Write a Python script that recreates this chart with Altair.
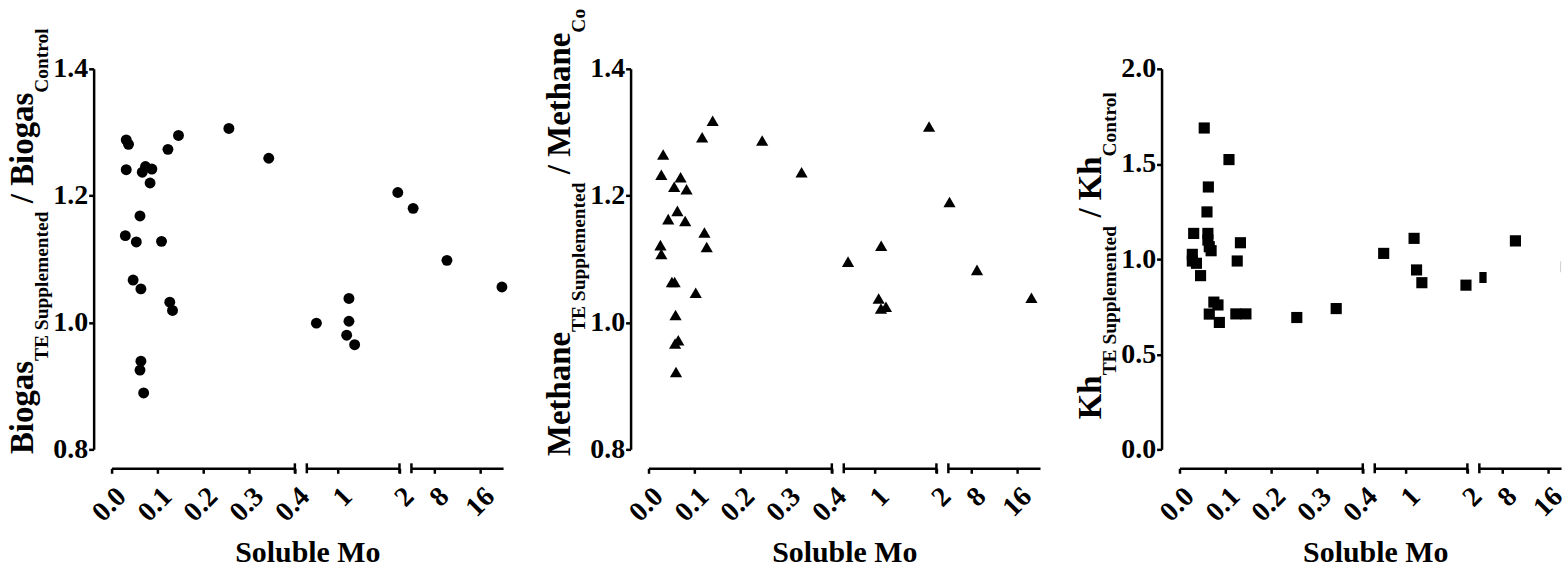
import altair as alt
import pandas as pd

# ---------------- data ----------------
bio_x = [0.032, 0.037, 0.032, 0.074, 0.067, 0.088, 0.084, 0.123, 0.146, 0.256, 0.343,
         0.062, 0.030, 0.054, 0.109, 0.047, 0.064, 0.127, 0.133, 0.064, 0.062, 0.070,
         0.655, 1.182, 1.182, 1.145, 1.274, 1.973, 4.3, 10.2, 19.8]
bio_y = [1.288, 1.281, 1.241, 1.246, 1.237, 1.242, 1.220, 1.273, 1.295, 1.306, 1.259,
         1.168, 1.137, 1.127, 1.128, 1.067, 1.053, 1.032, 1.019, 0.939, 0.925, 0.889,
         0.999, 1.038, 1.002, 0.980, 0.965, 1.205, 1.180, 1.098, 1.056]

meth_x = [0.032, 0.028, 0.056, 0.070, 0.083, 0.043, 0.063, 0.080, 0.026, 0.028, 0.117,
          0.140, 0.122, 0.127, 0.051, 0.057, 0.103, 0.059, 0.065, 0.058, 0.060, 0.248,
          0.334, 0.569, 1.106, 1.065, 1.102, 1.183, 1.881, 4.2, 9.0, 18.5]
meth_y = [1.265, 1.233, 1.214, 1.229, 1.210, 1.163, 1.176, 1.160, 1.122, 1.108, 1.292,
          1.318, 1.142, 1.119, 1.064, 1.064, 1.047, 1.012, 0.972, 0.967, 0.922, 1.287,
          1.237, 1.096, 1.121, 1.038, 1.022, 1.025, 1.309, 1.190, 1.083, 1.039]

kh_x = [0.031, 0.028, 0.028, 0.037, 0.046, 0.054, 0.063, 0.060, 0.062, 0.062, 0.065,
        0.069, 0.108, 0.133, 0.126, 0.075, 0.084, 0.065, 0.087, 0.123, 0.145, 0.256,
        0.342, 0.645, 1.137, 1.177, 1.263, 1.977, 4.3, 10.3, 19.2]
kh_y = [1.135, 1.025, 0.990, 0.978, 0.913, 1.689, 1.379, 1.248, 1.135, 1.100, 1.065,
        1.044, 1.523, 1.086, 0.990, 0.774, 0.759, 0.711, 0.667, 0.712, 0.712, 0.693,
        0.740, 1.030, 1.109, 0.943, 0.876, 0.863, 0.903, 1.096, 0.960]

x_ticks_seg = [[0.0, 0.1, 0.2, 0.3, 0.4], [1, 2], [8, 16]]
y_ticks_ratio = [0.8, 1.0, 1.2, 1.4]
y_ticks_kh = [0.0, 0.5, 1.0, 1.5, 2.0]
panel_words = ["Biogas", "Methane", "Kh"]
x_title = "Soluble Mo"

# ---------------- layout / style ----------------
FONT = "Liberation Serif"
BLACK = "#000000"
H = 382
X_OFF = 19
Y_OFF = 18
GAP = 12
SEG_RANGES = [(0.0, 0.4), (0.5, 2.0), (4.0, 20.0)]
SEG_PPU = [460.0, 62.0, 5.75]
SEG_FMT = [".1f", "d", "d"]
SEG_BREAKS = [[0.4], [0.5, 2.0], [4.0]]
SPACERS = [122, 116]
BIG, SUB = 33, 19.5
LABEL_SIZE = 28
TITLE_BOTTOM = [386.7, 388.7, 351.7]
TITLE_X_BIG, TITLE_X_SUB = -79, -64
TOP_EDGE = -68.3  # page top relative to plot top

ADV = {" ": 250, "/": 278, "B": 667, "C": 722, "E": 667, "K": 778, "M": 944, "S": 556,
       "T": 667, "a": 500, "d": 556, "e": 444, "g": 500, "h": 556, "i": 278, "l": 278,
       "m": 833, "n": 556, "o": 500, "p": 556, "r": 444, "s": 389, "t": 333, "u": 556}


def text_w(s, size):
    return sum(ADV.get(c, 500) for c in s) / 1000.0 * size


def title_layers(word, bottom):
    pieces = [(word, BIG, False), ("TE Supplemented", SUB, True), (" ", BIG, False),
              ("/", BIG, False), (" ", BIG, False), (word, BIG, False), ("Control", SUB, True)]
    y = bottom
    out = []
    for txt, size, sub in pieces:
        w = text_w(txt, size)
        if txt.strip():
            props = dict(angle=270, align="left", baseline="alphabetic", font=FONT,
                         fontWeight="bold", fontSize=size, color=BLACK)
            avail = y - (TOP_EDGE + 1)
            if avail < w:
                props["limit"] = max(avail, 1)
                props["ellipsis"] = "\u200b"
            out.append(
                alt.Chart(pd.DataFrame({"t": [txt]}))
                .mark_text(**props)
                .encode(text="t:N",
                        x=alt.value(TITLE_X_SUB if sub else TITLE_X_BIG),
                        y=alt.value(y))
            )
        y -= w
    return out


panels = [
    dict(x=bio_x, y=bio_y, shape="circle", size=120, ydom=(0.8, 1.4), yticks=y_ticks_ratio),
    dict(x=meth_x, y=meth_y, shape="triangle-up", size=150, ydom=(0.8, 1.4), yticks=y_ticks_ratio),
    dict(x=kh_x, y=kh_y, shape="square", size=125, ydom=(0.0, 2.0), yticks=y_ticks_kh),
]

seg_widths = [(hi - lo) * p for (lo, hi), p in zip(SEG_RANGES, SEG_PPU)]
panel_w = sum(seg_widths) + 2 * GAP

units = []
for pi, pan in enumerate(panels):
    df_all = pd.DataFrame({"x": pan["x"], "y": pan["y"]})
    for k in range(3):
        lo, hi = SEG_RANGES[k]
        width = seg_widths[k]
        dom_hi = hi
        clip = False
        if pi == 2 and k == 2:
            width = 82
            dom_hi = lo + width / SEG_PPU[k]
            clip = True
        df = df_all[(df_all.x >= lo) & (df_all.x <= hi)]
        x_scale = alt.Scale(domain=[lo, dom_hi], nice=False, zero=False)
        y_scale = alt.Scale(domain=list(pan["ydom"]), nice=False, zero=False)
        ax_kw = dict(values=x_ticks_seg[k], format=SEG_FMT[k], labelAngle=-45,
                     offset=X_OFF, labelFlush=False, labelOverlap=False, labelBound=False,
                     labelPadding=9, grid=False)
        if k == 0:
            x_axis = alt.Axis(title=x_title, titleX=panel_w / 2, titleY=94,
                              titleAlign="center", titleBaseline="alphabetic",
                              titleFontSize=30, titleFont=FONT, titleFontWeight="bold",
                              titleColor=BLACK, **ax_kw)
            y_axis = alt.Axis(values=pan["yticks"], format=".1f", offset=Y_OFF, title=None,
                              labelPadding=1, grid=False, labelFlush=False, labelOverlap=False)
        else:
            x_axis = alt.Axis(title=None, **ax_kw)
            y_axis = None
        pts = alt.Chart(df).mark_point(
            shape=pan["shape"], filled=True, size=pan["size"], color=BLACK, opacity=1,
            clip=clip
        ).encode(
            x=alt.X("x:Q", scale=x_scale, axis=x_axis),
            y=alt.Y("y:Q", scale=y_scale, axis=y_axis),
        )
        brk = alt.Chart(pd.DataFrame({"x": SEG_BREAKS[k]})).mark_rule(
            color=BLACK, strokeWidth=2.5
        ).encode(
            x=alt.X("x:Q", scale=x_scale, axis=x_axis),
            y=alt.value(H + X_OFF - 5),
            y2=alt.value(H + X_OFF + 5),
        )
        layers = [pts, brk]
        if k == 0:
            layers += title_layers(panel_words[pi], TITLE_BOTTOM[pi])
        if pi == 0 and k == 0:
            anchor = alt.Chart(pd.DataFrame({"a": [0]})).mark_rule(
                strokeOpacity=0, strokeWidth=1, color=BLACK
            ).encode(x=alt.value(-111.2), y=alt.value(TOP_EDGE + 0.5), y2=alt.value(-60))
            layers.append(anchor)
        units.append(alt.layer(*layers).properties(width=width, height=H))
    if pi < 2:
        spacer = alt.Chart(pd.DataFrame({"a": [0]})).mark_point(opacity=0).encode(
            x=alt.value(0), y=alt.value(0)
        ).properties(width=SPACERS[pi], height=H)
        units.append(spacer)

chart = alt.HConcatChart(hconcat=units, spacing=GAP, bounds="flush").properties(
    padding={"left": 0, "top": 0, "right": 0, "bottom": 0},
    background="white",
).configure_view(stroke=None).configure_axis(
    domainColor=BLACK, domainWidth=2.5, tickColor=BLACK, tickWidth=2.5, tickSize=5,
    labelFont=FONT, labelFontWeight="bold", labelFontSize=LABEL_SIZE, labelColor=BLACK,
    grid=False
)

chart.save("out.html", embed_options={"renderer": "svg", "actions": False})
